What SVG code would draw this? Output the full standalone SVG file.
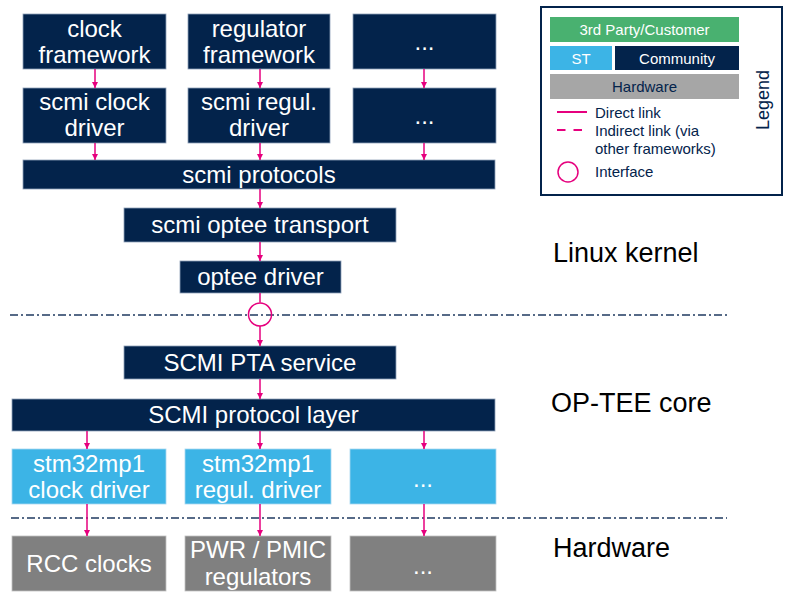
<svg xmlns="http://www.w3.org/2000/svg" width="795" height="600" viewBox="0 0 795 600">
<defs>
<marker id="ah" viewBox="0 0 10 10" refX="10" refY="5" markerWidth="6.5" markerHeight="6.5" markerUnits="userSpaceOnUse" orient="auto">
<path d="M0,0 L10,5 L0,10 z" fill="#E6007E"/>
</marker>
<style>
.nv{fill:#03234B;stroke:#8FA0B8;stroke-width:0.8}
.st{fill:#3CB4E6;stroke:#A8D8F0;stroke-width:0.8}
.hw{fill:#808080;stroke:#C0C0C0;stroke-width:0.8}
.t{font-family:"Liberation Sans",Arial,sans-serif;font-size:24px;fill:#FFFFFF;text-anchor:middle}
.lbl{font-family:"Liberation Sans",Arial,sans-serif;font-size:27px;fill:#000000}
.lg{font-family:"Liberation Sans",Arial,sans-serif;font-size:15px}
.lgt{font-family:"Liberation Sans",Arial,sans-serif;font-size:18px}
.c{stroke:#E6007E;stroke-width:1.5;fill:none}
.a{stroke:#E6007E;stroke-width:1.5;fill:none;marker-end:url(#ah)}
.sep{stroke:#1F3A60;stroke-width:1.5;stroke-dasharray:8 3 2 3;fill:none}
</style>
</defs>
<rect width="795" height="600" fill="#FFFFFF"/>

<g id="separators">
<line class="sep" x1="10" y1="315" x2="727" y2="315"/>
<line class="sep" x1="11" y1="518" x2="727" y2="518"/>
</g>

<g id="clock-framework"><rect class="nv" x="23" y="14" width="143" height="55"/><text class="t" x="94.5" y="37">clock</text><text class="t" x="94.5" y="63">framework</text></g>
<g id="regulator-framework"><rect class="nv" x="188" y="14" width="142" height="55"/><text class="t" x="259" y="37">regulator</text><text class="t" x="259" y="63">framework</text></g>
<g id="other-framework"><rect class="nv" x="353" y="14" width="143" height="55"/><text class="t" x="424.5" y="50">...</text></g>

<g id="scmi-clock-driver"><rect class="nv" x="23" y="88" width="143" height="55"/><text class="t" x="94.5" y="110">scmi clock</text><text class="t" x="94.5" y="136">driver</text></g>
<g id="scmi-regul-driver"><rect class="nv" x="188" y="88" width="142" height="55"/><text class="t" x="259" y="110">scmi regul.</text><text class="t" x="259" y="136">driver</text></g>
<g id="other-scmi-driver"><rect class="nv" x="353" y="88" width="143" height="55"/><text class="t" x="424.5" y="124">...</text></g>

<g id="scmi-protocols"><rect class="nv" x="23" y="160" width="472" height="29"/><text class="t" x="259" y="183">scmi protocols</text></g>
<g id="scmi-optee-transport"><rect class="nv" x="124" y="208" width="272" height="34"/><text class="t" x="260" y="233">scmi optee transport</text></g>
<g id="optee-driver"><rect class="nv" x="180" y="261" width="161" height="32"/><text class="t" x="260.5" y="285">optee driver</text></g>

<g id="scmi-pta-service"><rect class="nv" x="124" y="346" width="272" height="33"/><text class="t" x="260" y="371">SCMI PTA service</text></g>
<g id="scmi-protocol-layer"><rect class="nv" x="12" y="399" width="483" height="32"/><text class="t" x="253.5" y="423">SCMI protocol layer</text></g>

<g id="stm32mp1-clock-driver"><rect class="st" x="12" y="449" width="154" height="55"/><text class="t" x="89" y="472">stm32mp1</text><text class="t" x="89" y="498">clock driver</text></g>
<g id="stm32mp1-regul-driver"><rect class="st" x="185" y="449" width="146" height="55"/><text class="t" x="258" y="472">stm32mp1</text><text class="t" x="258" y="498">regul. driver</text></g>
<g id="other-st-driver"><rect class="st" x="350" y="449" width="146" height="55"/><text class="t" x="423" y="487">...</text></g>

<g id="rcc-clocks"><rect class="hw" x="12" y="536" width="154" height="55"/><text class="t" x="89" y="572">RCC clocks</text></g>
<g id="pwr-pmic-regulators"><rect class="hw" x="185" y="536" width="146" height="55"/><text class="t" x="258" y="558">PWR / PMIC</text><text class="t" x="258" y="585">regulators</text></g>
<g id="other-hw"><rect class="hw" x="350" y="536" width="146" height="55"/><text class="t" x="423" y="574">...</text></g>

<g id="layer-labels">
<text class="lbl" x="553" y="262">Linux kernel</text>
<text class="lbl" x="551" y="412">OP-TEE core</text>
<text class="lbl" x="553" y="557">Hardware</text>
</g>

<g id="connectors">
<line class="a" x1="95" y1="69" x2="95" y2="88"/>
<line class="a" x1="260" y1="69" x2="260" y2="88"/>
<line class="a" x1="424" y1="69" x2="424" y2="88"/>
<line class="a" x1="95" y1="143" x2="95" y2="160"/>
<line class="a" x1="260" y1="143" x2="260" y2="160"/>
<line class="a" x1="424" y1="143" x2="424" y2="160"/>
<line class="a" x1="260" y1="189" x2="260" y2="208"/>
<line class="a" x1="260" y1="242" x2="260" y2="261"/>
<line class="c" x1="260" y1="293" x2="260" y2="302.5"/>
<circle id="interface" class="c" cx="260" cy="314.5" r="11.5"/>
<line class="a" x1="260" y1="326" x2="260" y2="346"/>
<line class="a" x1="260" y1="379" x2="260" y2="399"/>
<line class="a" x1="87" y1="431" x2="87" y2="449"/>
<line class="a" x1="260" y1="431" x2="260" y2="449"/>
<line class="a" x1="424" y1="431" x2="424" y2="449"/>
<line class="a" x1="87" y1="504" x2="87" y2="536"/>
<line class="a" x1="260" y1="504" x2="260" y2="536"/>
<line class="a" x1="424" y1="504" x2="424" y2="536"/>
</g>

<g id="legend">
<rect x="541" y="7" width="241" height="188" fill="#FFFFFF" stroke="#03234B" stroke-width="2"/>
<rect x="550" y="17" width="189" height="25" fill="#49B170"/>
<text class="lg" x="644.5" y="35" text-anchor="middle" fill="#FFFFFF">3rd Party/Customer</text>
<rect x="550" y="46" width="62" height="24" fill="#3CB4E6"/>
<text class="lg" x="581" y="63.5" text-anchor="middle" fill="#FFFFFF">ST</text>
<rect x="615" y="46" width="124" height="24" fill="#03234B"/>
<text class="lg" x="677" y="63.5" text-anchor="middle" fill="#FFFFFF">Community</text>
<rect x="550" y="74" width="189" height="25" fill="#A6A6A6"/>
<text class="lg" x="644.5" y="92" text-anchor="middle" fill="#03234B">Hardware</text>
<line x1="557" y1="112" x2="587" y2="112" stroke="#E6007E" stroke-width="2"/>
<text class="lg" x="595" y="118" fill="#03234B">Direct link</text>
<line x1="557" y1="130" x2="587" y2="130" stroke="#E6007E" stroke-width="2" stroke-dasharray="8.5 8"/>
<text class="lg" x="595" y="136" fill="#03234B">Indirect link (via</text>
<text class="lg" x="595" y="154" fill="#03234B">other frameworks)</text>
<circle cx="568" cy="172" r="10" fill="none" stroke="#E6007E" stroke-width="1.5"/>
<text class="lg" x="595" y="177" fill="#03234B">Interface</text>
<text class="lgt" x="769" y="100" text-anchor="middle" fill="#03234B" transform="rotate(-90 769 100)">Legend</text>
</g>
</svg>
